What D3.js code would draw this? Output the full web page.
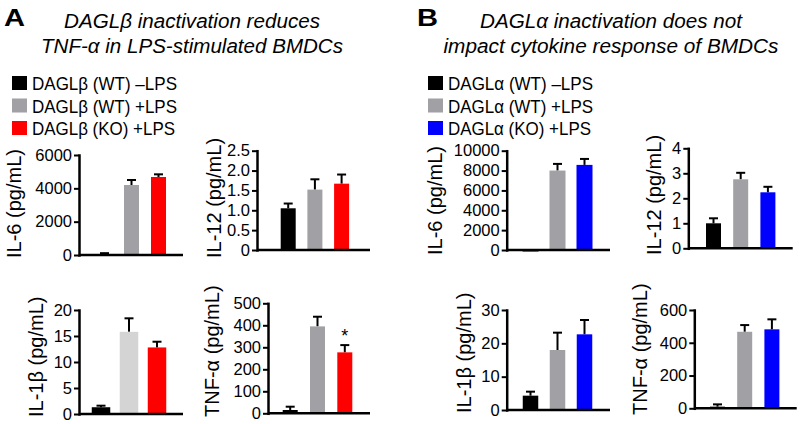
<!DOCTYPE html>
<html>
<head>
<meta charset="utf-8">
<script src="https://cdn.jsdelivr.net/npm/d3@7/dist/d3.min.js"></script>
<style>
  html, body { margin: 0; padding: 0; background: #fff; }
  svg { display: block; font-family: "Liberation Sans", Arial, Helvetica, sans-serif; }
</style>
</head>
<body>
<svg id="chart" width="800" height="424"></svg>
<script>
// ---------- data ----------
const groups = ["WT -LPS", "WT +LPS", "KO +LPS"];

const legendA = ["DAGLβ (WT) –LPS", "DAGLβ (WT) +LPS", "DAGLβ (KO) +LPS"];
const legendB = ["DAGLα (WT) –LPS", "DAGLα (WT) +LPS", "DAGLα (KO) +LPS"];
const colorsA = ["#000000", "#a0a0a5", "#ff0000"];
const colorsA_IL1b = ["#000000", "#d4d4d4", "#ff0000"];
const colorsB = ["#000000", "#a0a0a5", "#0000ff"];

const titleA = ["DAGLβ inactivation reduces", "TNF-α in LPS-stimulated BMDCs"];
const titleB = ["DAGLα inactivation does not", "impact cytokine response of BMDCs"];

// Panel A (DAGLβ)
const aIL6Mean = [60, 4200, 4680];
const aIL6Sem = [50, 300, 160];
const aIL6Ticks = [0, 2000, 4000, 6000];

const aIL12Mean = [1.05, 1.52, 1.67];
const aIL12Sem = [0.12, 0.26, 0.23];
const aIL12Ticks = [0, 0.5, 1.0, 1.5, 2.0, 2.5];

const aIL1bMean = [1.3, 15.8, 12.8];
const aIL1bSem = [0.3, 2.6, 1.1];
const aIL1bTicks = [0, 5, 10, 15, 20];

const aTNFMean = [15, 395, 277];
const aTNFSem = [15, 44, 33];
const aTNFTicks = [0, 100, 200, 300, 400, 500];
const aTNFSig = ["", "", "*"];

// Panel B (DAGLα)
const bIL6Mean = [-80, 8000, 8570];
const bIL6Sem = [0, 670, 600];
const bIL6Ticks = [0, 2000, 4000, 6000, 8000, 10000];

const bIL12Mean = [1.0, 2.76, 2.24];
const bIL12Sem = [0.2, 0.26, 0.22];
const bIL12Ticks = [0, 1, 2, 3, 4];

const bIL1bMean = [4.3, 18, 22.7];
const bIL1bSem = [1.2, 5.2, 4.3];
const bIL1bTicks = [0, 10, 20, 30];

const bTNFMean = [10, 467, 482];
const bTNFSem = [14, 41, 61];
const bTNFTicks = [0, 200, 400, 600];

// ---------- layout ----------
const fmtInt = d => String(d);
const fmtDec = d => d === 0 ? "0" : d3.format(".1f")(d);

const panels = [
  { label: "IL-6 (pg/mL)", mean: aIL6Mean, sem: aIL6Sem, ticks: aIL6Ticks, colors: colorsA, fmt: fmtInt,
    axisX: 79, axisEnd: 183, yTop: 155, y0: 255, c0: 104.5, step: 27, bw: 15, labX: 21, labY: 258 },
  { label: "IL-12 (pg/mL)", mean: aIL12Mean, sem: aIL12Sem, ticks: aIL12Ticks, colors: colorsA, fmt: fmtDec,
    axisX: 257, axisEnd: 370, yTop: 150.7, y0: 250, c0: 288.2, step: 26.7, bw: 15, labX: 221, labY: 258 },
  { label: "IL-1β (pg/mL)", mean: aIL1bMean, sem: aIL1bSem, ticks: aIL1bTicks, colors: colorsA_IL1b, fmt: fmtInt,
    axisX: 79, axisEnd: 183, yTop: 310, y0: 414, c0: 101, step: 28, bw: 18.5, labX: 43, labY: 417 },
  { label: "TNF-α (pg/mL)", mean: aTNFMean, sem: aTNFSem, ticks: aTNFTicks, colors: colorsA, fmt: fmtInt, sig: aTNFSig,
    axisX: 268, axisEnd: 370, yTop: 303.3, y0: 413.3, c0: 290.2, step: 27.3, bw: 15, labX: 219, labY: 417 },
  { label: "IL-6 (pg/mL)", mean: bIL6Mean, sem: bIL6Sem, ticks: bIL6Ticks, colors: colorsB, fmt: fmtInt,
    axisX: 506.7, axisEnd: 610, yTop: 150.7, y0: 250, c0: 530.5, step: 27, bw: 16, labX: 442, labY: 255 },
  { label: "IL-12 (pg/mL)", mean: bIL12Mean, sem: bIL12Sem, ticks: bIL12Ticks, colors: colorsB, fmt: fmtInt,
    axisX: 688.3, axisEnd: 792.7, yTop: 148.3, y0: 248.3, c0: 713.5, step: 27.2, bw: 15, labX: 661, labY: 255 },
  { label: "IL-1β (pg/mL)", mean: bIL1bMean, sem: bIL1bSem, ticks: bIL1bTicks, colors: colorsB, fmt: fmtInt,
    axisX: 506.7, axisEnd: 610, yTop: 310, y0: 410, c0: 530.5, step: 27, bw: 15.5, labX: 471, labY: 413 },
  { label: "TNF-α (pg/mL)", mean: bTNFMean, sem: bTNFSem, ticks: bTNFTicks, colors: colorsB, fmt: fmtInt,
    axisX: 694.3, axisEnd: 796.7, yTop: 310, y0: 408.3, c0: 717.5, step: 27.2, bw: 15, labX: 647, labY: 415 }
];

const svg = d3.select("#chart");

// ---------- headings ----------
const headings = [
  { letter: "A", lx: 4, title: titleA, cx: 192, lens: [256, 302], legend: legendA, colors: colorsA, sqX: 12, txX: 32, legLen: [145, 145, 143] },
  { letter: "B", lx: 417, title: titleB, cx: 611, lens: [262, 335], legend: legendB, colors: colorsB, sqX: 428, txX: 448, legLen: [145, 145, 143] }
];

headings.forEach(h => {
  svg.append("text")
    .attr("x", h.lx).attr("y", 26)
    .attr("font-size", 24).attr("font-weight", "bold")
    .attr("textLength", 21).attr("lengthAdjust", "spacingAndGlyphs")
    .text(h.letter);

  h.title.forEach((t, i) => {
    svg.append("text")
      .attr("x", h.cx).attr("y", 28 + i * 24.5)
      .attr("text-anchor", "middle")
      .attr("font-size", 19.5).attr("font-style", "italic")
      .attr("textLength", h.lens[i]).attr("lengthAdjust", "spacingAndGlyphs")
      .text(t);
  });

  const leg = svg.append("g");
  const rowY = d3.scalePoint().domain(d3.range(h.legend.length)).range([90, 135]);
  h.legend.forEach((t, i) => {
    leg.append("rect")
      .attr("x", h.sqX).attr("y", rowY(i) - 14)
      .attr("width", 15).attr("height", 14)
      .attr("fill", h.colors[i]);
    leg.append("text")
      .attr("x", h.txX).attr("y", rowY(i))
      .attr("font-size", 18)
      .attr("textLength", h.legLen[i]).attr("lengthAdjust", "spacingAndGlyphs")
      .text(t);
  });
});

// ---------- panels ----------
panels.forEach(p => {
  const g = svg.append("g");
  const y = d3.scaleLinear().domain([0, d3.max(p.ticks)]).range([p.y0, p.yTop]);
  const pad = 1 - p.bw / p.step;
  const x = d3.scaleBand().domain(groups)
    .range([p.c0 - p.step / 2, p.c0 + 2.5 * p.step])
    .paddingInner(pad).paddingOuter(pad / 2);

  const data = groups.map((k, i) => ({ k, v: p.mean[i], e: p.sem[i], c: p.colors[i], s: p.sig ? p.sig[i] : "" }));

  // error bars (upward only)
  const eb = g.append("g").attr("stroke", "#000").attr("stroke-width", 2);
  data.filter(d => d.e > 0).forEach(d => {
    const cx = x(d.k) + x.bandwidth() / 2;
    eb.append("line")
      .attr("x1", cx).attr("x2", cx)
      .attr("y1", y(Math.max(d.v, 0))).attr("y2", y(d.v + d.e));
    eb.append("line")
      .attr("x1", cx - 4.5).attr("x2", cx + 4.5)
      .attr("y1", y(d.v + d.e)).attr("y2", y(d.v + d.e));
  });

  // bars
  g.selectAll("rect.bar").data(data).join("rect")
    .attr("class", "bar")
    .attr("x", d => x(d.k))
    .attr("width", x.bandwidth())
    .attr("y", d => Math.min(y(d.v), y(0)))
    .attr("height", d => Math.max(Math.abs(y(0) - y(d.v)), 1.5))
    .attr("fill", d => d.c);

  // significance
  data.filter(d => d.s).forEach(d => {
    g.append("text")
      .attr("x", x(d.k) + x.bandwidth() / 2)
      .attr("y", y(d.v + d.e) - 3)
      .attr("text-anchor", "middle")
      .attr("font-size", 18)
      .text(d.s);
  });

  // y axis
  const ax = g.append("g")
    .attr("transform", `translate(${p.axisX},0)`)
    .call(d3.axisLeft(y).tickValues(p.ticks).tickFormat(p.fmt).tickSize(5).tickSizeOuter(0).tickPadding(2));
  ax.select(".domain").attr("stroke", "#000").attr("stroke-width", 2.5).attr("stroke-linecap", "square");
  ax.selectAll(".tick line").attr("stroke", "#000").attr("stroke-width", 2);
  ax.selectAll(".tick text")
    .attr("font-size", 16.5)
    .attr("font-family", "'Liberation Sans', Arial, sans-serif")
    .attr("fill", "#000");

  // x axis baseline
  g.append("line")
    .attr("x1", p.axisX).attr("x2", p.axisEnd)
    .attr("y1", p.y0).attr("y2", p.y0)
    .attr("stroke", "#000").attr("stroke-width", 2.5);

  // y label
  g.append("text")
    .attr("transform", `translate(${p.labX},${p.labY}) rotate(-90)`)
    .attr("font-size", 20)
    .text(p.label);
});
</script>
</body>
</html>
